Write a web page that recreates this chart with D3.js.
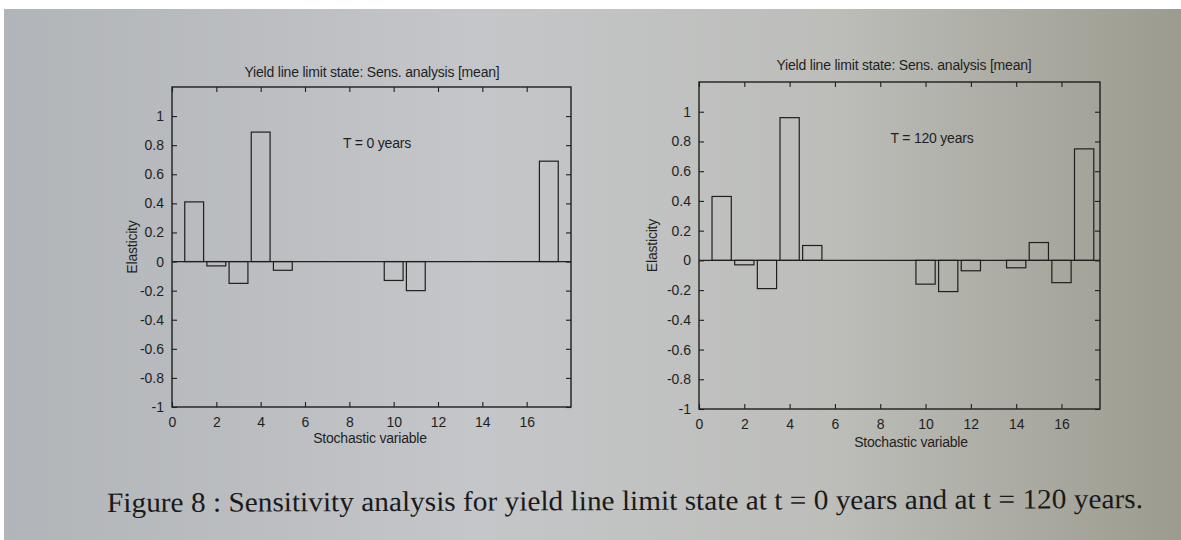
<!DOCTYPE html>
<html><head><meta charset="utf-8">
<script src="https://cdn.jsdelivr.net/npm/d3@7/dist/d3.min.js"></script>
<style>html,body{margin:0;padding:0;background:#fff;overflow:hidden}</style>
</head><body>
<svg id="c" width="1181" height="540"></svg>
<script>
// ---- data ----
const variables = [1,2,3,4,5,6,7,8,9,10,11,12,13,14,15,16,17];
const elasticityT0   = [0.41,-0.03,-0.15,0.89,-0.06,0,0,0,0,-0.13,-0.20,0,0,0,0,0,0.69];
const elasticityT120 = [0.43,-0.03,-0.19,0.96,0.10,0,0,0,0,-0.16,-0.21,-0.07,0,-0.05,0.12,-0.15,0.75];
const yTicks = [-1,-0.8,-0.6,-0.4,-0.2,0,0.2,0.4,0.6,0.8,1];
const yTickLabels = ["-1","-0.8","-0.6","-0.4","-0.2","0","0.2","0.4","0.6","0.8","1"];
const xTicks = [0,2,4,6,8,10,12,14,16];
const titleText = "Yield line limit state: Sens. analysis [mean]";
const annotations = ["T = 0 years","T = 120 years"];
const xLabel = "Stochastic variable";
const yLabel = "Elasticity";
const caption = "Figure 8 : Sensitivity analysis for yield line limit state at t = 0 years and at t = 120 years.";

const svg = d3.select("#c");
const ink = "#1f1f1f";

// photographed page background
const defs = svg.append("defs");
const g = defs.append("linearGradient").attr("id","bg").attr("x1","0").attr("x2","1").attr("y1","0").attr("y2","0");
g.append("stop").attr("offset","0").attr("stop-color","#b1b4b8");
g.append("stop").attr("offset","0.4").attr("stop-color","#c4c6c9");
g.append("stop").attr("offset","0.7").attr("stop-color","#bdbeba");
g.append("stop").attr("offset","1").attr("stop-color","#9c9b8f");
svg.append("rect").attr("x",4).attr("y",9).attr("width",1177).attr("height",531).attr("fill","url(#bg)");

const panels = [
  {data: elasticityT0, x0:172, x1:571, y0:87, y1:407, xmax:18, ann:annotations[0], annX:377, annY:148, titleY:77, titleX:372, xlabY:443, xlabX:370, ylabX:137, tickY:427},
  {data: elasticityT120, x0:699, x1:1100, y0:82, y1:409, xmax:17.7, ann:annotations[1], annX:932, annY:143, titleY:70, titleX:904, xlabY:447, xlabX:911, ylabX:657, tickY:429}
];

panels.forEach(p => {
  const x = d3.scaleLinear().domain([0,p.xmax]).range([p.x0,p.x1]);
  const y = d3.scaleLinear().domain([-1,1.2]).range([p.y1,p.y0]);
  const G = svg.append("g");
  const font = "'Liberation Sans', Arial, sans-serif";
  const fs = "14px";

  // bars
  const bw = 0.85;
  G.selectAll("rect.bar").data(variables.map((v,i)=>({v, e:p.data[i]}))).join("rect")
    .attr("class","bar")
    .attr("x", d => x(d.v - bw/2))
    .attr("width", d => x(d.v + bw/2) - x(d.v - bw/2))
    .attr("y", d => y(Math.max(0,d.e)))
    .attr("height", d => Math.abs(y(d.e) - y(0)))
    .attr("fill","none").attr("stroke",ink).attr("stroke-width",1.2);

  // zero line
  G.append("line").attr("x1",p.x0).attr("x2",p.x1).attr("y1",y(0)).attr("y2",y(0))
    .attr("stroke",ink).attr("stroke-width",1.3);

  // axes with inward ticks
  const tl = 5;
  const axL = d3.axisLeft(y).tickValues(yTicks).tickSize(-tl).tickPadding(8).tickFormat((d,i)=>yTickLabels[i]);
  const axR = d3.axisRight(y).tickValues(yTicks).tickSize(-tl).tickFormat("");
  const axB = d3.axisBottom(x).tickValues(xTicks).tickSize(-tl).tickPadding(10).tickFormat(d3.format("d"));
  const axT = d3.axisTop(x).tickValues(xTicks).tickSize(-tl).tickFormat("");
  const a1 = G.append("g").attr("transform",`translate(${p.x0},0)`).call(axL);
  const a2 = G.append("g").attr("transform",`translate(${p.x1},0)`).call(axR);
  const a3 = G.append("g").attr("transform",`translate(0,${p.y1})`).call(axB);
  const a4 = G.append("g").attr("transform",`translate(0,${p.y0})`).call(axT);
  [a1,a2,a3,a4].forEach(a=>{
    a.select(".domain").remove();
    a.selectAll("line").attr("stroke",ink).attr("stroke-width",1.1);
    a.selectAll("text").attr("fill",ink).style("font-family",font).style("font-size",fs);
  });
  // box
  G.append("rect").attr("x",p.x0).attr("y",p.y0).attr("width",p.x1-p.x0).attr("height",p.y1-p.y0)
    .attr("fill","none").attr("stroke",ink).attr("stroke-width",1.4);

  // texts
  const txt = (x0,y0,s) => G.append("text").attr("x",x0).attr("y",y0).attr("text-anchor","middle")
    .style("font-family",font).style("font-size",fs).attr("fill",ink).attr("letter-spacing","-0.2").text(s);
  txt(p.titleX,p.titleY,titleText);
  txt(p.annX,p.annY,p.ann);
  txt(p.xlabX,p.xlabY,xLabel);
  G.append("text").attr("transform",`translate(${p.ylabX},${(p.y0+p.y1)/2}) rotate(-90)`).attr("text-anchor","middle")
    .style("font-family",font).style("font-size",fs).attr("fill",ink).attr("letter-spacing","-0.2").text(yLabel);
});

// caption
svg.append("text").attr("x",107).attr("y",512).attr("transform","rotate(-0.22 107 512)")
  .attr("textLength",1036).attr("lengthAdjust","spacingAndGlyphs")
  .style("font-family","'Liberation Serif','Times New Roman',serif").style("font-size","28px")
  .attr("fill","#1a1a1a").text(caption);
</script>
</body></html>
